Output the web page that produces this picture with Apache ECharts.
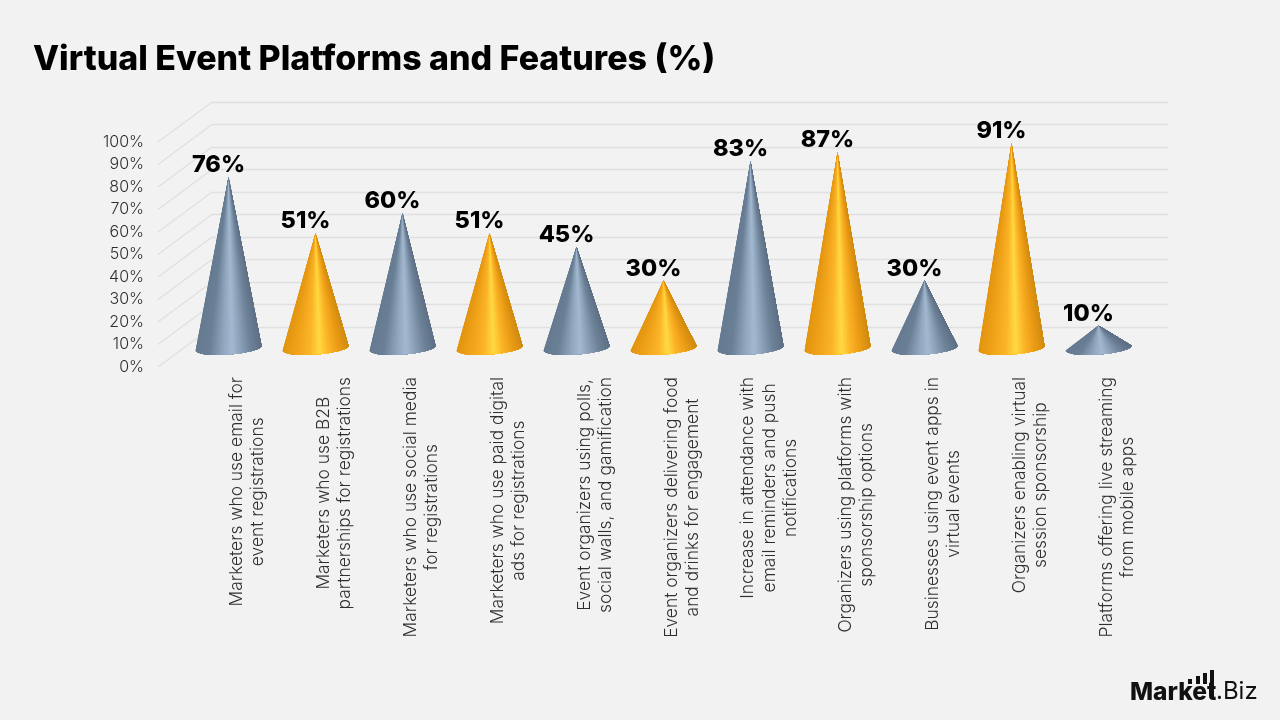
<!DOCTYPE html>
<html>
<head>
<meta charset="utf-8">
<title>Virtual Event Platforms and Features (%)</title>
<style>html,body{margin:0;padding:0;background:#f2f2f2}#chart{width:1280px;height:720px}</style>
<script src="https://cdn.jsdelivr.net/npm/echarts@6/dist/echarts.min.js"></script>
</head>
<body>
<div id="chart"></div>
<script>
// Chart content
const chartTitle = 'Virtual Event Platforms and Features (%)';
const categories = [
  'Marketers who use email for\nevent registrations',
  'Marketers who use B2B\npartnerships for registrations',
  'Marketers who use social media\nfor registrations',
  'Marketers who use paid digital\nads for registrations',
  'Event organizers using polls,\nsocial walls, and gamification',
  'Event organizers delivering food\nand drinks for engagement',
  'Increase in attendance with\nemail reminders and push\nnotifications',
  'Organizers using platforms with\nsponsorship options',
  'Businesses using event apps in\nvirtual events',
  'Organizers enabling virtual\nsession sponsorship',
  'Platforms offering live streaming\nfrom mobile apps'
];
const values = [76, 51, 60, 51, 45, 30, 83, 87, 30, 91, 10];
const axisTicks = [0, 10, 20, 30, 40, 50, 60, 70, 80, 90, 100];

// Shading across a cone, from its left edge to its right edge
const steelShade = [[0,'#667b91'],[0.2,'#6a8096'],[0.42,'#92a8c0'],[0.55,'#a4b9d1'],[0.66,'#8fa5bc'],[0.84,'#6d8298'],[1,'#5f7186']];
const goldShade = [[0,'#e2950f'],[0.2,'#f0a31a'],[0.4,'#fbb327'],[0.56,'#ffda40'],[0.7,'#fbb327'],[0.86,'#e99a14'],[1,'#d08c12']];

const FONT = 'Inter, "Open Sans", sans-serif';
const DEPTH_X = 54, DEPTH_Y = -40;   // floor depth of the pseudo-3D box
const CONE_RX = 33, CONE_RY = 6.5, CONE_TILT = -4.2 * Math.PI / 180;
const FAN_STEPS = 60;

function parseHex(h) { return [1, 3, 5].map(i => parseInt(h.substr(i, 2), 16)); }
function shadeAt(stops, t) {
  for (let i = 1; i < stops.length; i++) {
    if (t <= stops[i][0]) {
      const a = stops[i - 1], b = stops[i], f = (t - a[0]) / (b[0] - a[0]);
      const ca = parseHex(a[1]), cb = parseHex(b[1]);
      return 'rgb(' + ca.map((c, k) => Math.round(c + (cb[k] - c) * f)).join(',') + ')';
    }
  }
  return stops[stops.length - 1][1];
}

// A cone: layers painted left to right, each one covering the rest of the surface from
// the tip down to the front half of the tilted base ellipse, so the shading has no seams
function renderCone(params, api) {
  const idx = api.value(0), val = api.value(1);
  const base = api.coord([idx, 0]);
  const tip = api.coord([idx, val]);
  const stops = idx % 2 === 0 ? steelShade : goldShade;
  const cos = Math.cos(CONE_TILT), sin = Math.sin(CONE_TILT);
  const rim = a => {
    const ex = CONE_RX * Math.cos(a), ey = CONE_RY * Math.sin(a);
    return [base[0] + ex * cos - ey * sin, base[1] + ex * sin + ey * cos];
  };
  const rimAt = i => rim(Math.PI * (1 - i / FAN_STEPS));
  const children = [];
  for (let i = 0; i < FAN_STEPS; i++) {
    const t = (1 + Math.cos(Math.PI * (1 - (i + 0.5) / FAN_STEPS))) / 2;
    const points = [tip];
    for (let j = i; j <= FAN_STEPS; j++) points.push(rimAt(j));
    children.push({
      type: 'polygon',
      shape: { points },
      style: { fill: shadeAt(stops, t) },
      silent: true
    });
  }
  children.push({
    type: 'text',
    style: {
      text: val + '%', x: tip[0] - 10, y: tip[1],
      align: 'center', verticalAlign: 'bottom',
      fill: '#000', font: '800 23.5px ' + FONT
    }
  });
  return { type: 'group', children };
}

// Receding floor lines from the front ticks to the back wall
function renderDepthLine(params, api) {
  const p = api.coord([0, api.value(0)]);
  return {
    type: 'line',
    shape: { x1: p[0], y1: p[1], x2: p[0] + DEPTH_X, y2: p[1] + DEPTH_Y },
    style: { stroke: '#e0e0e0', lineWidth: 1.3 }
  };
}

const valueAxisBase = { type: 'value', min: 0, max: 100, interval: 10 };

const option = {
  backgroundColor: '#f2f2f2',
  animation: false,
  title: {
    text: chartTitle, left: 28, top: 38,
    textStyle: { fontFamily: FONT, fontWeight: 800, fontSize: 33.95, color: '#000' }
  },
  grid: [
    { left: 158, width: 54, top: 142, height: 225 },      // front edge with tick labels
    { left: 212, width: 956, top: 102, height: 225 },     // back wall
    { left: 185, width: 957, top: 123, height: 225 },     // plane holding the cones
    { left: 204, width: 957, top: 141, height: 236 }      // row of category labels
  ],
  xAxis: [
    { gridIndex: 0, type: 'value', min: 0, max: 1, show: false },
    { gridIndex: 1, type: 'value', min: 0, max: 1, show: false },
    { gridIndex: 2, type: 'category', data: categories, show: false },
    {
      gridIndex: 3, type: 'category', data: categories, position: 'bottom',
      axisLine: { show: false }, axisTick: { show: false },
      axisLabel: {
        show: true, interval: 0, rotate: 90, margin: 0,
        align: 'right', verticalAlign: 'middle', lineHeight: 21.5,
        formatter: v => v.split('\n').map(l => '{c|' + l + '}').join('\n'),
        rich: { c: { align: 'center', fontFamily: FONT, fontWeight: 300, fontSize: 17.4, lineHeight: 21.5, color: '#2f2f2f' } }
      }
    }
  ],
  yAxis: [
    {
      ...valueAxisBase, gridIndex: 0,
      axisLine: { show: false }, axisTick: { show: false }, splitLine: { show: false },
      axisLabel: { formatter: '{value}%', margin: 14, fontFamily: FONT, fontWeight: 300, fontSize: 16, color: '#2f2f2f' }
    },
    {
      ...valueAxisBase, gridIndex: 1,
      axisLine: { show: false }, axisTick: { show: false }, axisLabel: { show: false },
      splitLine: { show: true, lineStyle: { color: '#e0e0e0', width: 1.3 } }
    },
    { ...valueAxisBase, gridIndex: 2, show: false },
    { ...valueAxisBase, gridIndex: 3, show: false, max: 1, interval: 1 }
  ],
  series: [
    {
      type: 'custom', xAxisIndex: 0, yAxisIndex: 0, silent: true,
      clip: false, z: 1,
      data: axisTicks.map(t => [t]),
      encode: { y: 0 },
      renderItem: renderDepthLine
    },
    {
      type: 'custom', xAxisIndex: 2, yAxisIndex: 2, silent: true,
      clip: false, z: 3,
      data: values.map((v, i) => [i, v]),
      encode: { x: 0, y: 1 },
      renderItem: renderCone
    }
  ],
  graphic: [
    { type: 'text', left: 1130, top: 680, style: { text: 'Market', font: '800 24.5px ' + FONT, fill: '#111' } },
    { type: 'text', left: 1216, top: 680, style: { text: '.Biz', font: '400 24px ' + FONT, fill: '#111' } },
    { type: 'rect', shape: { x: 1188, y: 679, width: 4, height: 5 }, style: { fill: '#111' } },
    { type: 'rect', shape: { x: 1196, y: 676, width: 4, height: 8 }, style: { fill: '#111' } },
    { type: 'rect', shape: { x: 1203, y: 673, width: 4, height: 11 }, style: { fill: '#111' } },
    { type: 'rect', shape: { x: 1210, y: 670, width: 4, height: 27 }, style: { fill: '#111' } }
  ]
};

echarts.init(document.getElementById('chart'), null, { renderer: 'canvas' }).setOption(option);
</script>
</body>
</html>
